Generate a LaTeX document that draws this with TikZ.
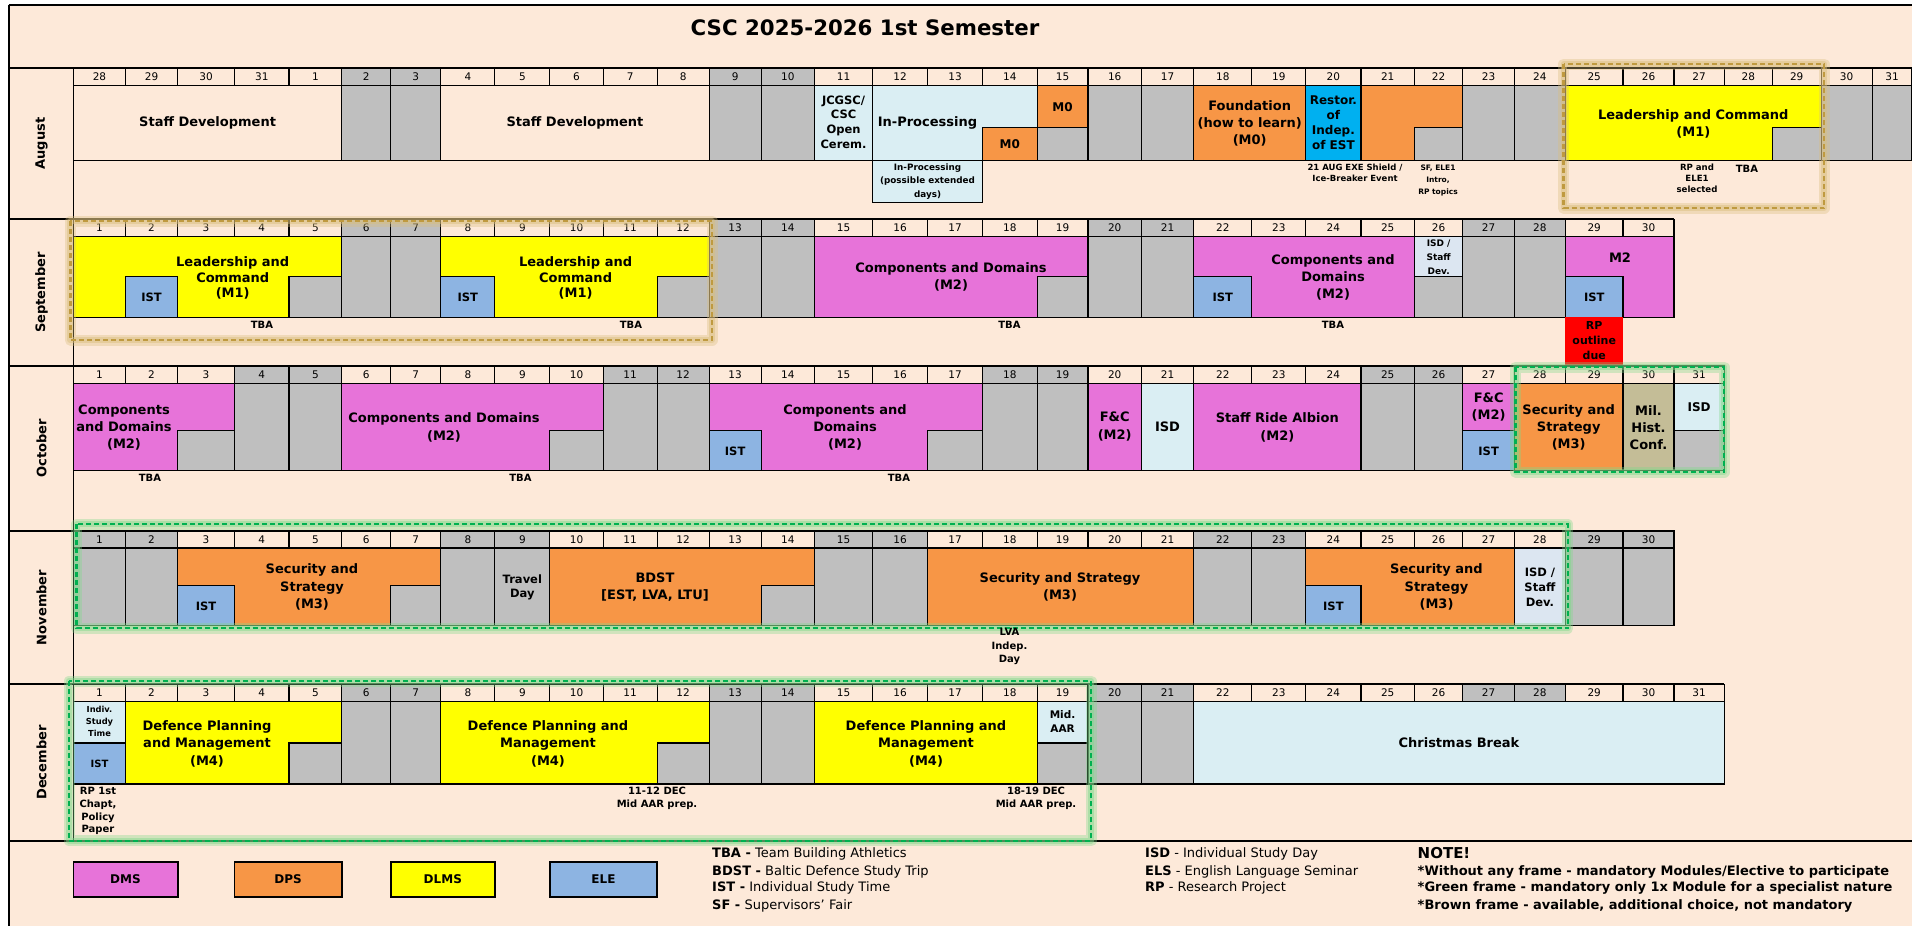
\documentclass[tikz,border=0pt]{standalone}
\usepackage{fontspec}
\setmainfont{DejaVu Sans}
\newfontfamily\monthfont{DejaVu Sans}
\definecolor{bgc}{HTML}{FDE9D9}
\definecolor{wk}{HTML}{BFBFBF}
\definecolor{mag}{HTML}{E773D9}
\definecolor{ora}{HTML}{F79646}
\definecolor{yel}{HTML}{FFFF00}
\definecolor{ist}{HTML}{8DB4E2}
\definecolor{lbl}{HTML}{DAEEF3}
\definecolor{cyanb}{HTML}{00B0F0}
\definecolor{redb}{HTML}{FF0000}
\definecolor{khaki}{HTML}{C4BD97}
\definecolor{isdc}{HTML}{DCE6F1}
\definecolor{brn}{HTML}{BF9A40}
\definecolor{brnglow}{HTML}{D9BE7C}
\definecolor{grn}{HTML}{00B050}
\definecolor{grnglow}{HTML}{7FD98A}
\newcommand\fsz[2]{\fontsize{#1}{#2}\selectfont}
\newcommand\bx[1]{\ifcase\numexpr#1\relax 73.5\or 125.5\or 177.6\or 234.5\or 289\or 341.7\or 390.7\or 440.9\or 494.8\or 549.9\or 603.2\or 657.1\or 709.1\or 761.2\or 814.5\or 872.6\or 927.7\or 982.5\or 1037.1\or 1088\or 1141.4\or 1193.6\or 1251.9\or 1305.8\or 1361\or 1414.4\or 1462.9\or 1514.4\or 1565.4\or 1623\or 1674\or 1724.3\or 1772.2\or 1821.2\or 1872.1\or 1912\fi}
\newcommand\blk[5]{\edef\xa{\bx{#2}}\edef\xb{\bx{#3}}\path[cell,fill=#1] (\xa,#4) rectangle (\xb,#5);}
\newcommand\ctr[2]{\edef\xa{\bx{#1}}\edef\xb{\bx{#2}}\pgfmathsetmacro\xm{(\xa+\xb)/2}}
\newcommand\mhdr[6]{%
 \foreach \ci in {0,...,#4}{\edef\xa{\bx{\ci}}\edef\xb{\bx{\ci+1}}\path[cell,fill=bgc] (\xa,#2) rectangle (\xb,#3);}
 \foreach \ci in {#5}{\edef\xa{\bx{\ci}}\edef\xb{\bx{\ci+1}}\path[cell,fill=wk] (\xa,#2) rectangle (\xb,#3);}
 \foreach \dd [count=\ci from 0] in {#6}{\edef\xa{\bx{\ci}}\edef\xb{\bx{\ci+1}}\pgfmathsetmacro\xm{(\xa+\xb)/2}\node[dayf] (h#1\ci) at (\xm,{(#2+#3)/2}) {\dd};}
}
\newcommand\frm[5]{%
 \draw[#1glow,opacity=0.35,line width=11pt,line join=round] (#2,#3) rectangle (#4,#5);
 \draw[#1glow,opacity=0.45,line width=6pt,line join=round] (#2,#3) rectangle (#4,#5);
 \draw[#1,line width=2.2pt,dash pattern=on 5pt off 3pt] (#2,#3) rectangle (#4,#5);
}
\begin{document}
\begin{tikzpicture}[x=1pt,y=-1pt,
 cell/.style={draw=black,line width=1.1pt},
 sepl/.style={draw=black,line width=1.8pt},
 mt/.style={font=\bfseries\fsz{13}{17},align=center,inner sep=0pt},
 istf/.style={font=\bfseries\fsz{11.5}{13},inner sep=0pt},
 nt/.style={font=\bfseries\fsz{8.5}{11},align=center,inner sep=0pt},
 tb/.style={font=\bfseries\fsz{10}{12},inner sep=0pt},
 dayf/.style={font=\fsz{10.5}{12},inner sep=0pt},
 lg/.style={font=\fsz{13}{15},anchor=west,inner sep=0pt},
 lgb/.style={font=\bfseries\fsz{13}{15},anchor=west,inner sep=0pt},
 mon/.style={font=\monthfont\bfseries\fsz{13}{15},rotate=90,inner sep=0pt}]
\useasboundingbox (0,0) rectangle (1912,926);
\fill[white] (0,0) rectangle (1912,926);
\fill[bgc] (8.6,5.3) rectangle (1912,926);

% ---------- AUGUST ----------
\mhdr{Aug}{68.3}{85.7}{34}{5,6,12,13}{28,29,30,31,1,2,3,4,5,6,7,8,9,10,11,12,13,14,15,16,17,18,19,20,21,22,23,24,25,26,27,28,29,30,31}
\blk{bgc}{0}{5}{85.7}{160.7}
\blk{wk}{5}{6}{85.7}{160.7}\blk{wk}{6}{7}{85.7}{160.7}
\blk{bgc}{7}{12}{85.7}{160.7}
\blk{wk}{12}{13}{85.7}{160.7}\blk{wk}{13}{14}{85.7}{160.7}
\blk{lbl}{14}{15}{85.7}{160.7}
\blk{lbl}{15}{18}{85.7}{160.7}
\blk{ora}{17}{18}{127.7}{160.7}
\blk{ora}{18}{19}{85.7}{160.7}
\blk{wk}{18}{19}{127.7}{160.7}
\blk{wk}{19}{20}{85.7}{160.7}\blk{wk}{20}{21}{85.7}{160.7}
\blk{ora}{21}{23}{85.7}{160.7}
\blk{cyanb}{23}{24}{85.7}{160.7}
\blk{ora}{24}{26}{85.7}{160.7}
\blk{wk}{25}{26}{127.7}{160.7}
\blk{wk}{26}{27}{85.7}{160.7}\blk{wk}{27}{28}{85.7}{160.7}
\blk{yel}{28}{33}{85.7}{160.7}
\blk{wk}{32}{33}{127.7}{160.7}
\blk{wk}{33}{34}{85.7}{160.7}\blk{wk}{34}{35}{85.7}{160.7}
\blk{lbl}{15}{17}{160.7}{202.7}

% ---------- SEPTEMBER ----------
\mhdr{Sep}{219.3}{236.7}{29}{5,6,12,13,19,20,26,27}{1,2,3,4,5,6,7,8,9,10,11,12,13,14,15,16,17,18,19,20,21,22,23,24,25,26,27,28,29,30}
\blk{yel}{0}{5}{236.7}{317.3}
\blk{ist}{1}{2}{276.7}{317.3}\blk{wk}{4}{5}{276.7}{317.3}
\blk{wk}{5}{6}{236.7}{317.3}\blk{wk}{6}{7}{236.7}{317.3}
\blk{yel}{7}{12}{236.7}{317.3}
\blk{ist}{7}{8}{276.7}{317.3}\blk{wk}{11}{12}{276.7}{317.3}
\blk{wk}{12}{13}{236.7}{317.3}\blk{wk}{13}{14}{236.7}{317.3}
\blk{mag}{14}{19}{236.7}{317.3}
\blk{wk}{18}{19}{276.7}{317.3}
\blk{wk}{19}{20}{236.7}{317.3}\blk{wk}{20}{21}{236.7}{317.3}
\blk{mag}{21}{26}{236.7}{317.3}
\blk{ist}{21}{22}{276.7}{317.3}
\blk{isdc}{25}{26}{236.7}{276.7}\blk{wk}{25}{26}{276.7}{317.3}
\blk{wk}{26}{27}{236.7}{317.3}\blk{wk}{27}{28}{236.7}{317.3}
\blk{mag}{28}{30}{236.7}{317.3}
\blk{ist}{28}{29}{276.7}{317.3}
\path[fill=redb] (1565.4,317.3) rectangle (1623,365.7);

% ---------- OCTOBER ----------
\mhdr{Oct}{366}{383.3}{30}{3,4,10,11,17,18,24,25}{1,2,3,4,5,6,7,8,9,10,11,12,13,14,15,16,17,18,19,20,21,22,23,24,25,26,27,28,29,30,31}
\blk{mag}{0}{3}{383.3}{470.7}
\blk{wk}{2}{3}{430.7}{470.7}
\blk{wk}{3}{4}{383.3}{470.7}\blk{wk}{4}{5}{383.3}{470.7}
\blk{mag}{5}{10}{383.3}{470.7}
\blk{wk}{9}{10}{430.7}{470.7}
\blk{wk}{10}{11}{383.3}{470.7}\blk{wk}{11}{12}{383.3}{470.7}
\blk{mag}{12}{17}{383.3}{470.7}
\blk{ist}{12}{13}{430.7}{470.7}\blk{wk}{16}{17}{430.7}{470.7}
\blk{wk}{17}{18}{383.3}{470.7}\blk{wk}{18}{19}{383.3}{470.7}
\blk{mag}{19}{20}{383.3}{470.7}
\blk{lbl}{20}{21}{383.3}{470.7}
\blk{mag}{21}{24}{383.3}{470.7}
\blk{wk}{24}{25}{383.3}{470.7}\blk{wk}{25}{26}{383.3}{470.7}
\blk{mag}{26}{27}{383.3}{470.7}
\blk{ist}{26}{27}{430.7}{470.7}
\blk{ora}{27}{29}{383.3}{470.7}
\blk{khaki}{29}{30}{383.3}{470.7}
\blk{lbl}{30}{31}{383.3}{430.7}\blk{wk}{30}{31}{430.7}{470.7}

% ---------- NOVEMBER ----------
\mhdr{Nov}{530.7}{548}{29}{0,1,7,8,14,15,21,22,28,29}{1,2,3,4,5,6,7,8,9,10,11,12,13,14,15,16,17,18,19,20,21,22,23,24,25,26,27,28,29,30}
\blk{wk}{0}{1}{548}{625.7}\blk{wk}{1}{2}{548}{625.7}
\blk{ora}{2}{7}{548}{625.7}
\blk{ist}{2}{3}{585.7}{625.7}\blk{wk}{6}{7}{585.7}{625.7}
\blk{wk}{7}{8}{548}{625.7}\blk{wk}{8}{9}{548}{625.7}
\blk{ora}{9}{14}{548}{625.7}
\blk{wk}{13}{14}{585.7}{625.7}
\blk{wk}{14}{15}{548}{625.7}\blk{wk}{15}{16}{548}{625.7}
\blk{ora}{16}{21}{548}{625.7}
\blk{wk}{21}{22}{548}{625.7}\blk{wk}{22}{23}{548}{625.7}
\blk{ora}{23}{27}{548}{625.7}
\blk{ist}{23}{24}{585.7}{625.7}
\blk{isdc}{27}{28}{548}{625.7}
\blk{wk}{28}{29}{548}{625.7}\blk{wk}{29}{30}{548}{625.7}

% ---------- DECEMBER ----------
\mhdr{Dec}{684.3}{701.7}{30}{5,6,12,13,19,20,26,27}{1,2,3,4,5,6,7,8,9,10,11,12,13,14,15,16,17,18,19,20,21,22,23,24,25,26,27,28,29,30,31}
\blk{lbl}{0}{1}{701.7}{743}\blk{ist}{0}{1}{743}{784}
\blk{yel}{1}{5}{701.7}{784}
\blk{wk}{4}{5}{743}{784}
\blk{wk}{5}{6}{701.7}{784}\blk{wk}{6}{7}{701.7}{784}
\blk{yel}{7}{12}{701.7}{784}
\blk{wk}{11}{12}{743}{784}
\blk{wk}{12}{13}{701.7}{784}\blk{wk}{13}{14}{701.7}{784}
\blk{yel}{14}{19}{701.7}{784}
\blk{lbl}{18}{19}{701.7}{743}\blk{wk}{18}{19}{743}{784}
\blk{wk}{19}{20}{701.7}{784}\blk{wk}{20}{21}{701.7}{784}
\blk{lbl}{21}{31}{701.7}{784}

% ---------- separators ----------
\draw[sepl] (8.6,5.3) -- (1912,5.3);
\draw[sepl] (8.6,68.3) -- (1912,68.3);
\draw[sepl] (8.6,219.3) -- (1674,219.3);
\draw[sepl] (8.6,366) -- (1724.3,366);
\draw[sepl] (8.6,530.7) -- (1674,530.7);
\draw[sepl] (8.6,684.3) -- (1724.3,684.3);
\draw[sepl] (8.6,840.7) -- (1912,840.7);
\draw[sepl] (8.6,5.3) -- (8.6,926);
\draw[sepl] (73.5,68.3) -- (73.5,840.7);

% ---------- frames ----------
\frm{brn}{1563.5}{64}{1824}{208}
\frm{brn}{70.4}{221}{712}{340}
\frm{grn}{1515.5}{367}{1724}{472}
\frm{grn}{76.5}{524.3}{1567.8}{628.3}
\frm{grn}{69}{681}{1091}{840.7}

% ---------- title and months ----------
\node[font=\bfseries\fsz{21.3}{25},inner sep=0pt] (title) at (865,28) {CSC 2025-2026 1st Semester};
\node[mon] (mAug) at (41.6,143.7) {August};
\node[mon] (mSep) at (41.6,292.5) {September};
\node[mon] (mOct) at (41.6,448.3) {October};
\node[mon] (mNov) at (41.6,607.5) {November};
\node[mon] (mDec) at (41.6,762.5) {December};

% ---------- August texts ----------
\ctr{0}{5}\node[mt] (a1) at (\xm,123) {Staff Development};
\ctr{7}{12}\node[mt] (a2) at (\xm,123) {Staff Development};
\ctr{14}{15}\node[mt,font=\bfseries\fsz{11.5}{14.7}] (a3) at (\xm,122) {JCGSC/\\CSC\\Open\\Cerem.};
\node[mt] (a4) at (927.5,123) {In-Processing};
\ctr{18}{19}\node[mt,font=\bfseries\fsz{12}{14}] (a5) at (\xm,106.7) {M0};
\ctr{17}{18}\node[mt,font=\bfseries\fsz{12}{14}] (a6) at (\xm,144.2) {M0};
\ctr{21}{23}\node[mt] (a7) at (\xm,123) {Foundation\\(how to learn)\\(M0)};
\ctr{23}{24}\node[mt,font=\bfseries\fsz{12}{15}] (a8) at (\xm,123) {Restor.\\of\\Indep.\\of EST};
\ctr{28}{33}\node[mt] (a9) at (\xm,123.5) {Leadership and Command\\(M1)};
\ctr{15}{17}\node[nt,font=\bfseries\fsz{8.8}{13.5}] (a10) at (\xm,181.5) {In-Processing\\(possible extended\\days)};
\node[nt] (a11) at (1355,172.5) {21 AUG EXE Shield /\\Ice-Breaker Event};
\node[nt,font=\bfseries\fsz{7.5}{12}] (a12) at (1438,180) {SF, ELE1\\Intro,\\RP topics};
\node[nt,font=\bfseries\fsz{8.6}{11}] (a13) at (1697,178) {RP and\\ELE1\\selected};
\node[tb] (a14) at (1747,169) {TBA};

% ---------- September texts ----------
\node[mt,font=\bfseries\fsz{13}{15.5}] (s1) at (232.7,278) {Leadership and\\Command\\(M1)};
\ctr{1}{2}\node[istf] (s2) at (\xm,297) {IST};
\node[mt,font=\bfseries\fsz{13}{15.5}] (s3) at (575.6,278) {Leadership and\\Command\\(M1)};
\ctr{7}{8}\node[istf] (s4) at (\xm,297) {IST};
\node[mt] (s5) at (951,276.7) {Components and Domains\\(M2)};
\node[mt] (s6) at (1333,277.5) {Components and\\Domains\\(M2)};
\ctr{21}{22}\node[istf] (s7) at (\xm,297) {IST};
\ctr{25}{26}\node[nt,font=\bfseries\fsz{9}{14}] (s8) at (\xm,257) {ISD /\\Staff\\Dev.};
\node[mt] (s9) at (1620,257.7) {M2};
\ctr{28}{29}\node[istf] (s10) at (\xm,297) {IST};
\ctr{28}{29}\node[mt,font=\bfseries\fsz{11}{15}] (s11) at (\xm,341) {RP\\outline\\due};
\node[tb] (s12) at (262,325) {TBA};
\node[tb] (s13) at (631,325) {TBA};
\node[tb] (s14) at (1009.5,325) {TBA};
\node[tb] (s15) at (1333,325) {TBA};

% ---------- October texts ----------
\node[mt] (o1) at (124,427.5) {Components\\and Domains\\(M2)};
\node[mt,font=\bfseries\fsz{13}{18}] (o2) at (444,427) {Components and Domains\\(M2)};
\node[mt] (o3) at (845,427.5) {Components and\\Domains\\(M2)};
\ctr{12}{13}\node[istf] (o4) at (\xm,451) {IST};
\ctr{19}{20}\node[mt,font=\bfseries\fsz{13}{18}] (o5) at (\xm,427) {F\&C\\(M2)};
\ctr{20}{21}\node[mt] (o6) at (\xm,427) {ISD};
\ctr{21}{24}\node[mt,font=\bfseries\fsz{13}{18}] (o7) at (\xm,427) {Staff Ride Albion\\(M2)};
\ctr{26}{27}\node[mt] (o8) at (\xm,407) {F\&C\\(M2)};
\ctr{26}{27}\node[istf] (o9) at (\xm,451) {IST};
\ctr{27}{29}\node[mt] (o10) at (\xm,427.5) {Security and\\Strategy\\(M3)};
\ctr{29}{30}\node[mt] (o11) at (\xm,427.5) {Mil.\\Hist.\\Conf.};
\ctr{30}{31}\node[mt,font=\bfseries\fsz{12}{13}] (o12) at (\xm,407) {ISD};
\node[tb] (o13) at (150,478) {TBA};
\node[tb] (o14) at (520.5,478) {TBA};
\node[tb] (o15) at (899,478) {TBA};

% ---------- November texts ----------
\node[mt,font=\bfseries\fsz{13}{17.5}] (n1) at (312,587) {Security and\\Strategy\\(M3)};
\ctr{2}{3}\node[istf] (n2) at (\xm,606) {IST};
\ctr{8}{9}\node[mt,font=\bfseries\fsz{11.5}{14}] (n3) at (\xm,587) {Travel\\Day};
\node[mt] (n4) at (655,587) {BDST\\{[EST, LVA, LTU]}};
\node[mt] (n5) at (1060,587) {Security and Strategy\\(M3)};
\node[mt,font=\bfseries\fsz{13}{17.5}] (n6) at (1436.5,587) {Security and\\Strategy\\(M3)};
\ctr{23}{24}\node[istf] (n7) at (\xm,606) {IST};
\ctr{27}{28}\node[mt,font=\bfseries\fsz{11.5}{15}] (n8) at (\xm,587) {ISD /\\Staff\\Dev.};
\node[nt,font=\bfseries\fsz{10}{13.5}] (n9) at (1009.5,646.5) {LVA\\Indep.\\Day};

% ---------- December texts ----------
\ctr{0}{1}\node[nt,font=\bfseries\fsz{8.3}{12}] (d1) at (\xm,721) {Indiv.\\Study\\Time};
\ctr{0}{1}\node[istf,font=\bfseries\fsz{10}{12}] (d2) at (\xm,764) {IST};
\node[mt,font=\bfseries\fsz{13}{17.5}] (d3) at (207,743.5) {Defence Planning\\and Management\\(M4)};
\node[mt,font=\bfseries\fsz{13}{17.5}] (d4) at (548,743.5) {Defence Planning and\\Management\\(M4)};
\node[mt,font=\bfseries\fsz{13}{17.5}] (d5) at (926,743.5) {Defence Planning and\\Management\\(M4)};
\ctr{18}{19}\node[mt,font=\bfseries\fsz{10.5}{14}] (d6) at (\xm,722) {Mid.\\AAR};
\ctr{21}{31}\node[mt] (d7) at (\xm,743) {Christmas Break};
\node[nt,font=\bfseries\fsz{10}{12.8}] (d8) at (98,811) {RP 1st\\Chapt,\\Policy\\Paper};
\node[nt,font=\bfseries\fsz{10}{13.5}] (d9) at (657,798.5) {11-12 DEC\\Mid AAR prep.};
\node[nt,font=\bfseries\fsz{10}{13.5}] (d10) at (1036,798.5) {18-19 DEC\\Mid AAR prep.};

% ---------- legend ----------
\path[draw=black,line width=1.8pt,fill=mag] (73.5,861.7) rectangle (177.6,896.7);
\path[draw=black,line width=1.8pt,fill=ora] (234.5,861.7) rectangle (341.7,896.7);
\path[draw=black,line width=1.8pt,fill=yel] (390.7,861.7) rectangle (494.8,896.7);
\path[draw=black,line width=1.8pt,fill=ist] (549.9,861.7) rectangle (657.1,896.7);
\node[mt,font=\bfseries\fsz{12}{14}] (l1) at (125.5,879.2) {DMS};
\node[mt,font=\bfseries\fsz{12}{14}] (l2) at (288.1,879.2) {DPS};
\node[mt,font=\bfseries\fsz{12}{14}] (l3) at (442.8,879.2) {DLMS};
\node[mt,font=\bfseries\fsz{12}{14}] (l4) at (603.5,879.2) {ELE};
\node[lg] (l5) at (712,854.3) {\textbf{TBA -} Team Building Athletics};
\node[lg] (l6) at (712,871.7) {\textbf{BDST -} Baltic Defence Study Trip};
\node[lg] (l7) at (712,888.3) {\textbf{IST -} Individual Study Time};
\node[lg] (l8) at (712,906) {\textbf{SF -} Supervisors' Fair};
\node[lg] (l9) at (1145,854.3) {\textbf{ISD} - Individual Study Day};
\node[lg] (l10) at (1145,871.7) {\textbf{ELS} - English Language Seminar};
\node[lg] (l11) at (1145,888.3) {\textbf{RP} - Research Project};
\node[lgb,font=\bfseries\fsz{15}{17}] (l12) at (1417.5,853.3) {NOTE!};
\node[lgb] (l13) at (1417.5,871.7) {*Without any frame - mandatory Modules/Elective to participate};
\node[lgb] (l14) at (1417.5,888.3) {*Green frame - mandatory only 1x Module for a specialist nature};
\node[lgb] (l15) at (1417.5,906) {*Brown frame - available, additional choice, not mandatory};
\end{tikzpicture}
\end{document}
